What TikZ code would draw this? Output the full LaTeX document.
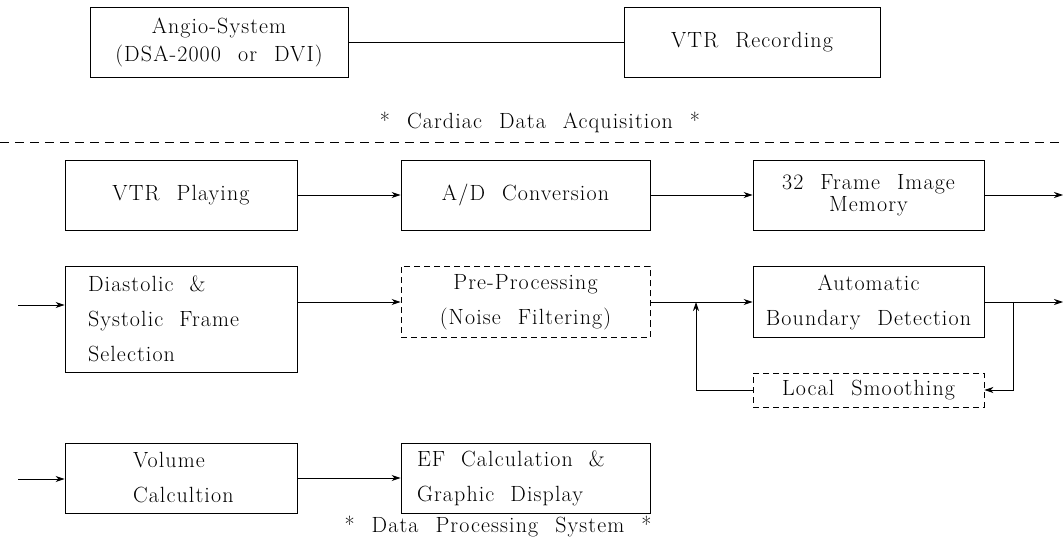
\documentclass[tikz,border=0pt]{standalone}
\usepackage{fontspec}
\setmainfont{Latin Modern Roman}[LetterSpace=5,WordSpace=2.2]
\usetikzlibrary{arrows.meta}
\newcommand{\widesp}{\spaceskip=0.73em\relax}
\begin{document}
\begin{tikzpicture}[x=1pt,y=-1pt,
  box/.style={draw,line width=0.9pt,inner sep=0pt,align=center,font=\fontsize{22}{35}\selectfont},
  dbox/.style={box,dash pattern=on 6pt off 4pt},
  conn/.style={line width=0.9pt},
  arr/.style={line width=0.9pt,-{Stealth[length=9pt,width=6pt]}},
  capt/.style={font=\fontsize{22}{24}\selectfont}]
\useasboundingbox (0,0) rectangle (1063,545);
% top part
\node[box,minimum width=258pt,minimum height=70pt,font=\fontsize{22}{28}\selectfont] (angio) at (219,42) {Angio-System\\(DSA-2000 or DVI)};
\node[box,minimum width=256pt,minimum height=70pt] (vtrrec) at (752,42) {VTR Recording};
\node[capt] (cap1) at (540,122) {* Cardiac Data Acquisition *};
\coordinate (sepL) at (0,142);
\coordinate (sepR) at (1063,142);
\draw[line width=0.7pt,dash pattern=on 9pt off 6pt] (sepL) -- (sepR);
% row 1
\node[box,minimum width=232pt,minimum height=70pt] (vtrplay) at (181,195) {VTR Playing};
\node[box,minimum width=249pt,minimum height=70pt] (ad) at (525.5,195) {A/D Conversion};
\node[box,minimum width=231pt,minimum height=70pt,font=\fontsize{22}{22}\selectfont] (mem) at (868.5,195) {32 Frame Image\\Memory};
\coordinate (out1) at (1063,195);
% row 2
\node[box,minimum width=232pt,minimum height=106pt,align=left,text width=186pt,inner xsep=23pt] (dia) at (181,319) {\widesp Diastolic \&\\Systolic Frame\\Selection};
\node[dbox,minimum width=249pt,minimum height=71pt] (pre) at (525.5,302) {Pre-Processing\\(Noise Filtering)};
\node[box,minimum width=231pt,minimum height=71pt] (abd) at (868.5,302) {Automatic\\Boundary Detection};
\node[dbox,minimum width=231pt,minimum height=34pt] (ls) at (868.5,390) {Local Smoothing};
\coordinate (in2) at (18,305);
\coordinate (out2) at (1063,302);
\coordinate (j1) at (696,302);
\coordinate (j2) at (1013,302);
% row 3
\node[box,minimum width=232pt,minimum height=70pt,align=left,text width=96pt,inner xsep=68pt] (vol) at (181,478) {Volume\\Calcultion};
\node[box,minimum width=249pt,minimum height=70pt,align=left,text width=217pt,inner xsep=16pt] (ef) at (525.5,478) {\widesp EF Calculation \&\\Graphic Display};
\coordinate (in3) at (18,479);
\node[capt] (cap2) at (498,527) {* Data Processing System *};
% connectors
\draw[conn] (angio) -- (vtrrec);
\draw[arr] (vtrplay) -- (ad);
\draw[arr] (ad) -- (mem);
\draw[arr] (mem.east) -- (out1);
\draw[arr] (in2) -- (in2 -| dia.west);
\draw[arr] (dia.east |- pre.west) -- (pre.west);
\draw[arr] (pre.east) -- (abd.west);
\draw[arr] (abd.east) -- (out2);
\draw[arr] (j2) -- (j2 |- ls.east) -- (ls.east);
\draw[arr] (ls.west) -- (j1 |- ls.west) -- (j1);
\draw[arr] (in3) -- (in3 -| vol.west);
\draw[arr] (vol) -- (ef);
\end{tikzpicture}
\end{document}
